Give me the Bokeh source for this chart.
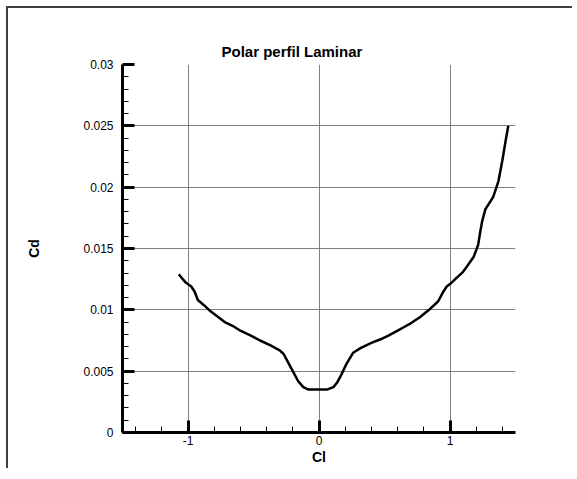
from bokeh.plotting import figure
from bokeh.models import Range1d, FixedTicker, CustomJSTickFormatter
from bokeh.embed import file_html
from bokeh.resources import INLINE

# Polar data
cl = [-1.07, -1.04, -1.015, -0.975, -0.95, -0.925, -0.88, -0.83, -0.78, -0.72,
      -0.66, -0.60, -0.52, -0.45, -0.37, -0.30, -0.27, -0.24, -0.20, -0.16,
      -0.12, -0.08, -0.04, 0.0, 0.06, 0.11, 0.14, 0.17, 0.21, 0.26,
      0.32, 0.40, 0.47, 0.53, 0.60, 0.65, 0.70, 0.77, 0.84, 0.91,
      0.95, 0.975, 1.0, 1.05, 1.10, 1.14, 1.18, 1.215, 1.23, 1.245,
      1.27, 1.30, 1.33, 1.37, 1.40, 1.425, 1.445]
cd = [0.0129, 0.0125, 0.0122, 0.0119, 0.0115, 0.0108, 0.0104, 0.0099, 0.0095, 0.0090,
      0.0087, 0.0083, 0.0079, 0.0075, 0.0071, 0.0067, 0.0064, 0.0058, 0.0050, 0.0042,
      0.0037, 0.0035, 0.0035, 0.0035, 0.0035, 0.0037, 0.0041, 0.0047, 0.0056, 0.0065,
      0.0069, 0.0073, 0.0076, 0.0079, 0.0083, 0.0086, 0.0089, 0.0094, 0.0100, 0.0107,
      0.0115, 0.0119, 0.0121, 0.0126, 0.0131, 0.0137, 0.0143, 0.0153, 0.0163, 0.0172,
      0.0182, 0.0187, 0.0192, 0.0205, 0.0222, 0.0238, 0.0250]

x_major = [-1, 0, 1]
x_minor = [-1.4, -1.2, -0.8, -0.6, -0.4, -0.2, 0.2, 0.4, 0.6, 0.8, 1.2, 1.4]
y_major = [0, 0.005, 0.01, 0.015, 0.02, 0.025, 0.03]
y_minor = [i * 0.001 for i in range(31)]

title_text = "Polar perfil Laminar"
x_label = "Cl"
y_label = "Cd"

FONT = "Liberation Sans"

p = figure(width=566, height=462, output_backend="svg", toolbar_location=None,
           x_range=Range1d(-1.5, 1.5), y_range=Range1d(0, 0.03),
           min_border_left=114, min_border_right=59, min_border_top=56, min_border_bottom=38)
p.margin = (6, 0, 0, 6)
p.styles = {"border-top": "2px solid #404040", "border-left": "2px solid #404040",
            "border-right": "0px none", "border-bottom": "0px none"}
p.outline_line_color = None
p.background_fill_color = "white"
p.border_fill_color = "white"

p.title.text = title_text
p.title.align = "left"
p.title.text_font = FONT
p.title.text_font_size = "15px"
p.title.text_font_style = "bold"
p.title.text_color = "black"
p.title.offset = 99
p.title.standoff = 10

p.line(cl, cd, line_color="black", line_width=2.5)

fmt = CustomJSTickFormatter(code="return tick == 0 ? '0' : String(+tick.toFixed(4));")

for ax, major, minor, lab in ((p.xaxis[0], x_major, x_minor, x_label),
                              (p.yaxis[0], y_major, y_minor, y_label)):
    ax.ticker = FixedTicker(ticks=major, minor_ticks=minor)
    ax.formatter = fmt
    ax.axis_line_color = "black"
    ax.axis_line_width = 3
    ax.major_tick_in = 12
    ax.major_tick_out = 0
    ax.minor_tick_in = 6
    ax.minor_tick_out = 0
    ax.major_tick_line_width = 3
    ax.minor_tick_line_width = 1
    ax.major_tick_line_color = "black"
    ax.minor_tick_line_color = "black"
    ax.major_label_text_font = FONT
    ax.major_label_text_font_size = "12px"
    ax.major_label_text_color = "black"
    ax.axis_label = lab
    ax.axis_label_text_font = FONT
    ax.axis_label_text_font_size = "14px"
    ax.axis_label_text_font_style = "bold"
    ax.axis_label_text_color = "black"

p.xaxis.major_label_standoff = 3
p.xaxis.axis_label_standoff = 1
p.yaxis.major_label_standoff = 9
p.yaxis.axis_label_standoff = 38

p.xgrid.ticker = FixedTicker(ticks=x_major)
p.ygrid.ticker = FixedTicker(ticks=y_major)
for g in (p.xgrid[0], p.ygrid[0]):
    g.grid_line_color = "#808080"
    g.grid_line_width = 1

open("out.html", "w").write(file_html(p, INLINE))
